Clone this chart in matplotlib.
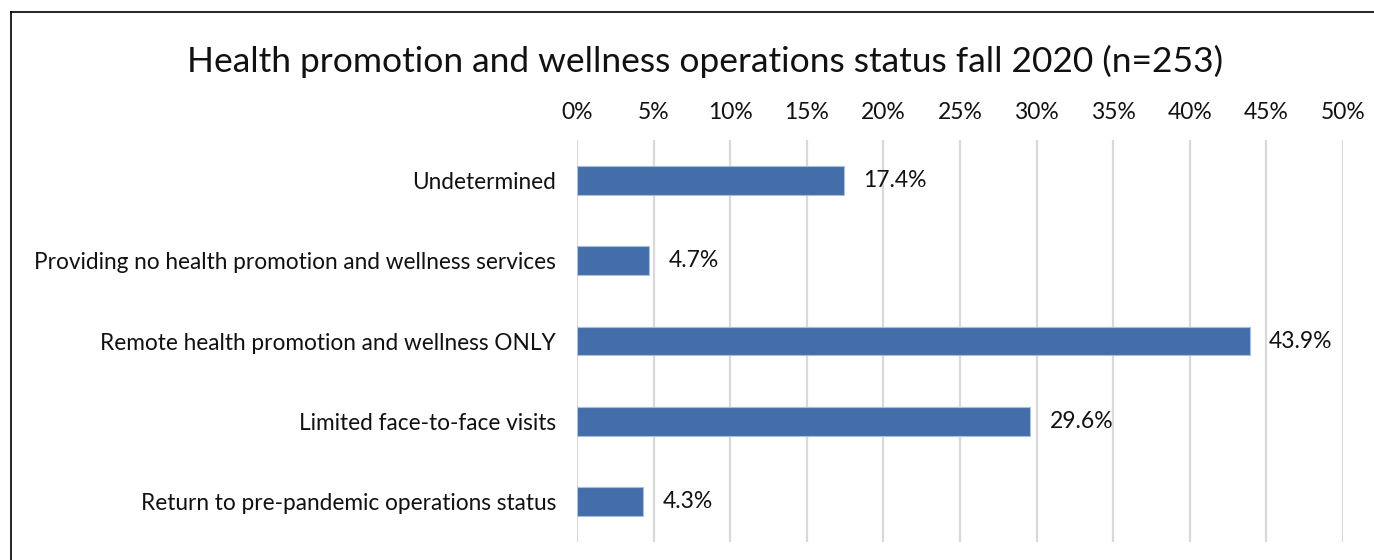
import matplotlib
matplotlib.use("Agg")
import matplotlib.pyplot as plt
from matplotlib.ticker import FuncFormatter, MultipleLocator
from matplotlib.lines import Line2D

categories = [
    "Undetermined",
    "Providing no health promotion and wellness services",
    "Remote health promotion and wellness ONLY",
    "Limited face-to-face visits",
    "Return to pre-pandemic operations status",
]
values = [17.4, 4.7, 43.9, 29.6, 4.3]
title = "Health promotion and wellness operations status fall 2020 (n=253)"

plt.rcParams['font.family'] = ['Lato', 'DejaVu Sans']

W, H = 1374, 560
fig = plt.figure(figsize=(W / 100, H / 100), dpi=100)
ax = fig.add_axes([577 / W, 1 - 542 / H, (1343 - 577) / W, (542 - 140) / H])

ypos = list(range(len(categories)))
ax.barh(ypos, values, height=0.36, color="#436EAA", edgecolor="#A9BEDD", linewidth=0.8, zorder=3)
ax.set_ylim(len(categories) - 0.5, -0.5)
ax.set_xlim(0, 50)
ax.xaxis.set_major_locator(MultipleLocator(5))
ax.xaxis.set_major_formatter(FuncFormatter(lambda v, p: f"{v:.0f}%"))
ax.xaxis.tick_top()
ax.set_yticks(ypos)
ax.set_yticklabels(categories)
ax.tick_params(axis="x", length=0, pad=12, labelsize=16.5, colors="#111111")
ax.tick_params(axis="y", length=0, pad=15, labelsize=16.3, colors="#111111")
ax.grid(axis="x", color="#D9D9D9", linewidth=1.6, zorder=0)
for s in ax.spines.values():
    s.set_visible(False)

for y, v in zip(ypos, values):
    ax.annotate(f"{v:.1f}%", xy=(v, y), xytext=(14, 0), textcoords="offset points",
                va="center", ha="left", fontsize=16.5, color="#111111")

fig.text(705 / W, 1 - 61 / H, title, ha="center", va="center", fontsize=25.5, color="#111111")

# border (left and top visible)
fig.add_artist(Line2D([11 / W, 11 / W], [0, 1 - 12 / H], color="black", linewidth=1.2, transform=fig.transFigure))
fig.add_artist(Line2D([11 / W, 1], [1 - 12 / H, 1 - 12 / H], color="black", linewidth=1.2, transform=fig.transFigure))

fig.savefig("out.png", dpi=100)
